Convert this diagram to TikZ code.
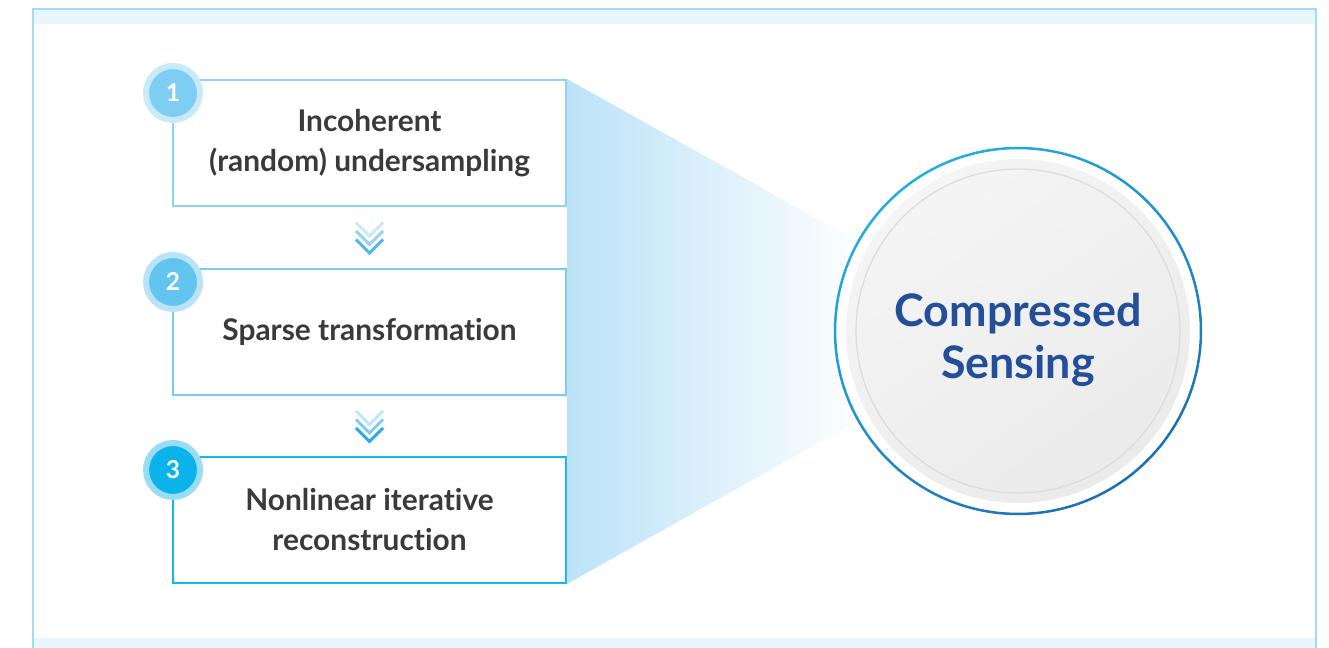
\documentclass[tikz,border=0pt]{standalone}
\usepackage{fontspec}
\setmainfont{Lato}[Ligatures=NoCommon]
\usetikzlibrary{positioning,calc}

\definecolor{framebl}{HTML}{A3DAF4}
\definecolor{bandbl}{HTML}{E8F5FD}
\definecolor{lineA}{HTML}{8CD4F3}
\definecolor{lineB}{HTML}{76CCF1}
\definecolor{lineC}{HTML}{12B7EC}
\definecolor{haloA}{HTML}{C9EAF9}
\definecolor{haloB}{HTML}{B9E3F7}
\definecolor{haloC}{HTML}{9ADCF5}
\definecolor{dotA}{HTML}{7DCEF2}
\definecolor{dotB}{HTML}{62C5EF}
\definecolor{dotC}{HTML}{0AB4EA}
\definecolor{funnelbl}{HTML}{BCE2F7}
\definecolor{chevA}{HTML}{55B6EA}
\definecolor{chevB}{HTML}{2DACE6}
\definecolor{ringtop}{HTML}{22AEE4}
\definecolor{ringbot}{HTML}{1D6FB4}
\definecolor{discgrey}{HTML}{DCDCDC}
\definecolor{cstext}{HTML}{234F99}
\definecolor{boxtext}{HTML}{3A3A3A}

\begin{document}
\begin{tikzpicture}[x=0.02cm, y=-0.02cm,
    stepbox/.style={draw=#1, line width=1.15pt, fill=white, minimum width=7.86cm, minimum height=2.52cm,
        align=center, text=boxtext, font=\bfseries\fontsize{17}{22.8}\selectfont},
    badge/.style 2 args={circle, fill=#1, draw=#2, line width=0.12cm, minimum size=1.08cm, inner sep=0pt,
        text=white, font=\bfseries\fontsize{14}{16}\selectfont},
    chevron/.style={line width=0.062cm, line join=miter}]

\useasboundingbox (0,0) rectangle (1329,648);

% frame with the light bands on top and bottom
\fill[bandbl] (33,9) rectangle (1316,24);
\fill[bandbl] (33,638) rectangle (1316,648);
\draw[framebl, line width=1.1pt] (33,648) -- (33,9) -- (1316,9) -- (1316,648);

% the three steps
\node[stepbox=lineA] (sampling) at (369.5,143) {Incoherent\\(random) undersampling};
\node[stepbox=lineB, below=1.22cm of sampling] (sparse) {Sparse transformation};
\node[stepbox=lineC, below=1.2cm of sparse] (recon) {Nonlinear iterative\\reconstruction};

\node[badge={dotA}{haloA}] (b1) at ($(sampling.north west)+(1,14)$) {1};
\node[badge={dotB}{haloB}] (b2) at ($(sparse.north west)+(1,14)$) {2};
\node[badge={dotC}{haloC}] (b3) at ($(recon.north west)+(1,14)$) {3};

% chevrons between the boxes
\foreach \up/\down/\c in {sampling/sparse/chevA, sparse/recon/chevB} {
    \coordinate (gap) at ($(\up.south)!0.5!(\down.north)$);
    \foreach \k/\op in {0/0.3, 1/0.6, 2/1} {
        \draw[chevron, \c, opacity=\op] ($(gap)+(-13.5,-15+8.5*\k)$) -- ($(gap)+(0,-1.5+8.5*\k)$) -- ($(gap)+(13.5,-15+8.5*\k)$);
    }
}

% funnel into the circle
\coordinate (cscenter) at (1018,331);
\begin{scope}
    \clip (sampling.north east) -- (cscenter) -- (recon.south east) -- cycle;
    \shade[left color=funnelbl, right color=white] (sampling.north east) rectangle ($(recon.south east)+(300,0)$);
\end{scope}

% compressed sensing circle
\fill[white] (cscenter) circle (3.66cm);
\shade[top color=ringtop, bottom color=ringbot, shading angle=35, even odd rule]
    (cscenter) circle (3.685cm) (cscenter) circle (3.635cm);
\node[circle, minimum size=6.88cm, inner sep=0pt, top color=white!96!black, bottom color=white!92!black,
    shading angle=35] (cs) at (cscenter) {};
\draw[discgrey, line width=0.7pt] (cs.center) circle (3.24cm);
\node[text=cstext, align=center, font=\bfseries\fontsize{25.5}{30}\selectfont] (cstitle)
    at ($(cs.center)+(0,9)$) {Compressed\\Sensing};

\end{tikzpicture}
\end{document}
